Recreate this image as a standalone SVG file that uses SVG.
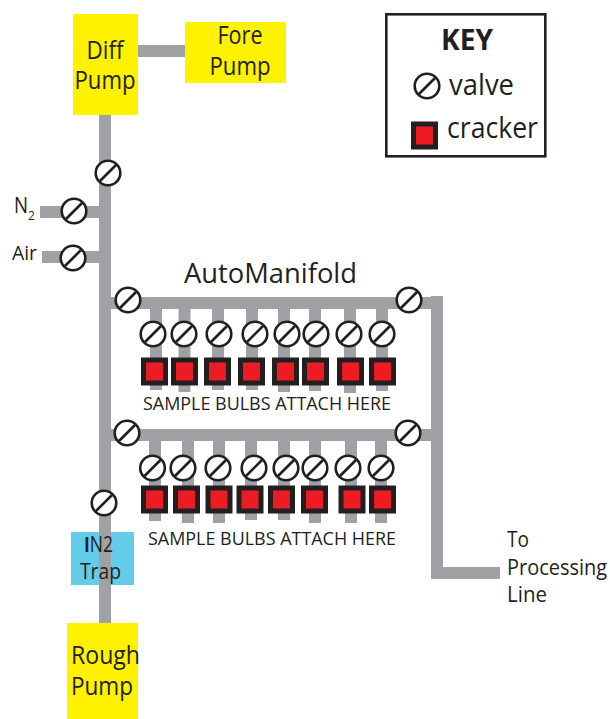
<svg xmlns="http://www.w3.org/2000/svg" xmlns:xlink="http://www.w3.org/1999/xlink" width="610" height="719" viewBox="0 0 610 719">
<style>
text{font-family:"Open Sans","Noto Sans","Liberation Sans",sans-serif;fill:#231f20}
.pipe{stroke:#a0a1a5;stroke-width:12;fill:none}
.pump{fill:#fff200}
.trap{fill:#63cce9}
.v{fill:#fff;stroke:#231f20;stroke-width:2.6}
.c{fill:#ed1c24;stroke:#231f20;stroke-width:5}
.big{font-size:25px}
.mid{font-size:21.500px}
.sm{font-size:18.500px}
</style>
<defs>
<g id="valve"><circle class="v" r="12.3"/><line class="v" x1="-8" y1="8" x2="8" y2="-8"/></g>
<rect id="cracker" class="c" x="-11" y="-11" width="22" height="23"/>
</defs>
<rect width="610" height="719" fill="#fff"/>
<g id="trap-back"><rect class="trap" x="71" y="532" width="63" height="53"/></g>
<g id="connectors">
<path class="pipe" d="M138 51H185"/>
<path class="pipe" d="M105 115V623"/>
<path class="pipe" d="M40 212H99"/>
<path class="pipe" d="M42 257H99"/>
<path class="pipe" d="M111 303H443"/>
<path class="pipe" d="M437 296V573M431 573H500"/>
<path class="pipe" d="M111 435H431"/>
<path class="pipe" d="M156 309V390M184.500 309V392M218 309V390M252 309V390M284 309V392M315 309V391M350 309V393M382 309V391"/>
<path class="pipe" d="M155 441V521M188 441V523M219 441V523M251 441V520M284 441V520M315 441V523M351 441V523M381 441V523"/>
</g>
<g id="diff-pump"><rect class="pump" x="73" y="14" width="65" height="101"/><text class="big" x="105" y="59" text-anchor="middle" textLength="37" lengthAdjust="spacingAndGlyphs">Diff</text><text class="big" x="105" y="89" text-anchor="middle" textLength="61" lengthAdjust="spacingAndGlyphs">Pump</text></g>
<g id="fore-pump"><rect class="pump" x="185" y="22" width="101" height="61"/><text class="big" x="240" y="44" text-anchor="middle" textLength="45" lengthAdjust="spacingAndGlyphs">Fore</text><text class="big" x="240" y="75" text-anchor="middle" textLength="61" lengthAdjust="spacingAndGlyphs">Pump</text></g>
<g id="key"><rect x="386.300" y="14.300" width="159" height="142" fill="#fff" stroke="#231f20" stroke-width="2.600"/><text x="467" y="50" text-anchor="middle" font-size="29" font-weight="700" textLength="52" lengthAdjust="spacingAndGlyphs">KEY</text><use href="#valve" x="427" y="86"/><text x="449" y="95" font-size="29" textLength="65" lengthAdjust="spacingAndGlyphs">valve</text><use href="#cracker" x="424.500" y="135"/><text x="447" y="138" font-size="29" textLength="91" lengthAdjust="spacingAndGlyphs">cracker</text></g>
<g id="valve-main"><use href="#valve" x="108" y="173"/></g>
<g id="valve-n2"><text x="14" y="213" font-size="21" textLength="14" lengthAdjust="spacingAndGlyphs">N</text><text x="28" y="220" font-size="12">2</text><use href="#valve" x="74" y="211"/></g>
<g id="valve-air"><text x="12" y="260" font-size="20" textLength="25" lengthAdjust="spacingAndGlyphs">Air</text><use href="#valve" x="73" y="258"/></g>
<g id="automanifold-label"><text x="184" y="283" font-size="27" textLength="173" lengthAdjust="spacingAndGlyphs">AutoManifold</text></g>
<g id="upper-manifold">
<use href="#valve" x="128" y="300"/><use href="#valve" x="409" y="300"/>
<use href="#valve" x="153" y="334"/><use href="#valve" x="184" y="334"/><use href="#valve" x="219" y="334"/><use href="#valve" x="255" y="334"/><use href="#valve" x="287" y="334"/><use href="#valve" x="316" y="334"/><use href="#valve" x="349" y="334"/><use href="#valve" x="382" y="334"/>
<use href="#cracker" x="154.500" y="371"/><use href="#cracker" x="184.500" y="371"/><use href="#cracker" x="217.500" y="371"/><use href="#cracker" x="251.500" y="371"/><use href="#cracker" x="285.500" y="371"/><use href="#cracker" x="315.500" y="371"/><use href="#cracker" x="350.500" y="371"/><use href="#cracker" x="382.500" y="371"/>
<text class="sm" x="143" y="410" textLength="248" lengthAdjust="spacingAndGlyphs">SAMPLE BULBS ATTACH HERE</text>
</g>
<g id="lower-manifold">
<use href="#valve" x="127" y="433"/><use href="#valve" x="408" y="433"/>
<use href="#valve" x="152.500" y="468"/><use href="#valve" x="183" y="468"/><use href="#valve" x="218" y="468"/><use href="#valve" x="254" y="468"/><use href="#valve" x="286" y="468"/><use href="#valve" x="315" y="468"/><use href="#valve" x="348" y="468"/><use href="#valve" x="381" y="468"/>
<use href="#cracker" x="154.500" y="499"/><use href="#cracker" x="186.500" y="499"/><use href="#cracker" x="219" y="499"/><use href="#cracker" x="250" y="499"/><use href="#cracker" x="281.500" y="499"/><use href="#cracker" x="314.500" y="499"/><use href="#cracker" x="352" y="499"/><use href="#cracker" x="382.500" y="499"/>
<text class="sm" x="148" y="545" textLength="248" lengthAdjust="spacingAndGlyphs">SAMPLE BULBS ATTACH HERE</text>
</g>
<g id="valve-trap"><use href="#valve" x="104" y="503"/></g>
<g id="ln2-trap"><text class="mid" x="84" y="552" textLength="29" lengthAdjust="spacingAndGlyphs"><tspan font-weight="700">I</tspan>N2</text><text class="mid" x="80" y="579" textLength="41" lengthAdjust="spacingAndGlyphs">Trap</text></g>
<g id="rough-pump"><rect class="pump" x="67" y="623" width="71" height="96"/><text class="big" x="71" y="664" textLength="69" lengthAdjust="spacingAndGlyphs">Rough</text><text class="big" x="71" y="695" textLength="62" lengthAdjust="spacingAndGlyphs">Pump</text></g>
<g id="processing-label"><text class="mid" x="507" y="547" textLength="22" lengthAdjust="spacingAndGlyphs">To</text><text class="mid" x="507" y="575" textLength="100" lengthAdjust="spacingAndGlyphs">Processing</text><text class="mid" x="507" y="602" textLength="40" lengthAdjust="spacingAndGlyphs">Line</text></g>
</svg>
